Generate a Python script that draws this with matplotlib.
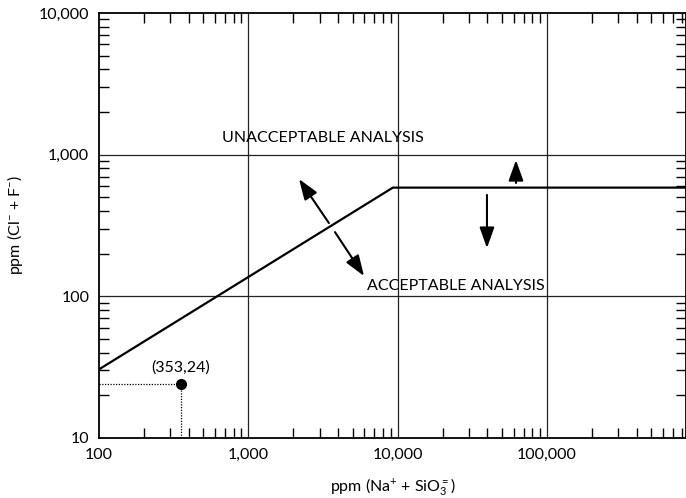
import matplotlib.pyplot as plt
import matplotlib.ticker as ticker

# boundary line between acceptable / unacceptable analysis
limit_x = [100, 9300, 855000]
limit_y = [30.5, 585, 585]

# example sample
sample_x = 353
sample_y = 24
sample_label = "(353,24)"

x_ticks = [100, 1000, 10000, 100000]
x_ticklabels = ["100", "1,000", "10,000", "100,000"]
y_ticks = [10, 100, 1000, 10000]
y_ticklabels = ["10", "100", "1,000", "10,000"]

plt.rcParams['font.family'] = ['Lato', 'DejaVu Sans']
plt.rcParams['mathtext.fontset'] = 'custom'
plt.rcParams['mathtext.rm'] = 'Lato'
plt.rcParams['mathtext.it'] = 'Lato:italic'

fs = 11.5

fig = plt.figure(figsize=(6.86, 4.98), dpi=100)
ax = fig.add_axes([0.1443, 0.1205, 1.0 - 0.1443, 0.974 - 0.1205])

ax.set_xscale('log')
ax.set_yscale('log')
ax.set_xlim(100, 855000)
ax.set_ylim(10, 10000)

# grid at the major decades
for gx in x_ticks[1:]:
    ax.axvline(gx, color='#222222', lw=0.9, zorder=1)
for gy in y_ticks[1:3]:
    ax.axhline(gy, color='#222222', lw=0.9, zorder=1)

ax.plot(limit_x, limit_y, color='black', lw=1.6, zorder=3)

# sample point with dotted guides
ax.plot([100, sample_x], [sample_y, sample_y], color='black', ls=(0, (1, 1.2)), lw=0.9)
ax.plot([sample_x, sample_x], [10, sample_y], color='black', ls=(0, (1, 1.2)), lw=0.9)
ax.plot(sample_x, sample_y, 'o', color='black', ms=7, zorder=4)
ax.text(sample_x, 28, sample_label, ha='center', va='bottom', fontsize=fs)

ax.text(667, 1170, "UNACCEPTABLE ANALYSIS", ha='left', va='bottom', fontsize=fs)
ax.text(6240, 118, "ACCEPTABLE ANALYSIS", ha='left', va='center', fontsize=fs)

arrow = dict(arrowstyle='-|>,head_length=0.7,head_width=0.25', color='black',
             lw=1.5, mutation_scale=18, shrinkA=0, shrinkB=0)
ax.annotate("", xy=(2186, 673), xytext=(3467, 329), arrowprops=arrow)
ax.annotate("", xy=(5960, 139), xytext=(3808, 284), arrowprops=arrow)
ax.annotate("", xy=(62100, 916), xytext=(62100, 631), arrowprops=arrow)
ax.annotate("", xy=(39700, 219), xytext=(39700, 519), arrowprops=arrow)

ax.set_xticks(x_ticks)
ax.set_xticklabels(x_ticklabels)
ax.set_yticks(y_ticks)
ax.set_yticklabels(y_ticklabels)
ax.xaxis.set_minor_locator(ticker.LogLocator(base=10, subs=range(2, 10)))
ax.yaxis.set_minor_locator(ticker.LogLocator(base=10, subs=range(2, 10)))
ax.xaxis.set_minor_formatter(ticker.NullFormatter())
ax.yaxis.set_minor_formatter(ticker.NullFormatter())

ax.tick_params(which='major', length=0, labelsize=fs, pad=7)
ax.tick_params(which='minor', direction='in', length=7, width=1.0,
               top=True, right=True)
for s in ax.spines.values():
    s.set_linewidth(1.3)

ax.set_xlabel(r"ppm (Na$^{+}$ + SiO$_{3}^{=}$)", fontsize=fs, labelpad=10)
ax.set_ylabel(r"ppm (Cl$^{-}$ + F$^{-}$)", fontsize=fs)
ax.yaxis.set_label_coords(-0.126, 0.5)

fig.savefig("out.png", dpi=100)
